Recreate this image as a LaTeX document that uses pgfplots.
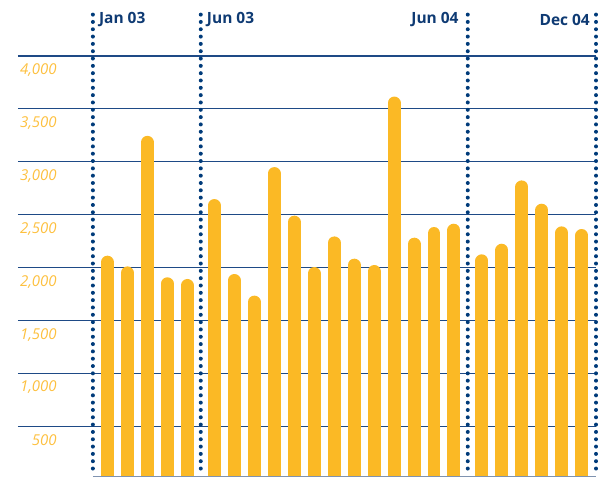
\documentclass[border=0pt]{standalone}
\usepackage{fontspec}
\setmainfont{Open Sans}
\usepackage{pgfplots}
\pgfplotsset{compat=1.18}
\definecolor{barc}{HTML}{FBB925}
\definecolor{labc}{HTML}{FDC03F}
\definecolor{gridc}{HTML}{1E4A86}
\definecolor{dotc}{HTML}{003B7A}
\definecolor{labb}{HTML}{0E3A73}
\definecolor{axisc}{HTML}{7F93B0}
\tikzset{dotl/.style={dotc, line width=4pt, line cap=round, dash pattern=on 0pt off 7.33pt},
 mlab/.style={text=labb, font=\bfseries\fontsize{15.5}{17}\selectfont, inner sep=0pt}}
\begin{document}
\begin{tikzpicture}
\begin{axis}[
 scale only axis, width=578.7pt, height=477pt,
 xmin=-4.475, xmax=24.46, ymin=28, ymax=4528,
 axis x line*=bottom, axis y line*=left,
 x axis line style={draw=none},
 y axis line style={draw=none},
 xtick=\empty, ytick={500,1000,...,4000},
 ytick style={draw=none},
 ymajorgrids, grid style={draw=gridc, line width=1.3pt},
 yticklabel style={anchor=east, xshift=39pt, yshift=-14pt, font=\fontsize{15}{17}\selectfont\itshape, text=labc, inner sep=0pt},
 /pgf/number format/assume math mode=true,
 /pgf/number format/1000 sep={,},
]
\addplot[ycomb, draw=barc, line width=13pt, line cap=round, yshift=-6.5pt, mark=none] coordinates {
 (0,2113) (1,2012) (2,3245) (3,1909) (4,1893)
 (5.35,2648) (6.35,1940) (7.35,1736) (8.35,2950) (9.35,2491) (10.35,2006)
 (11.35,2295) (12.35,2085) (13.35,2025) (14.35,3616) (15.35,2283) (16.35,2384) (17.35,2415)
 (18.75,2126) (19.75,2226) (20.75,2824) (21.75,2604) (22.75,2390) (23.75,2365)
};
\draw[axisc, line width=1pt] (axis cs:-0.725,28) -- (axis cs:24.46,28);
\draw[dotl] (axis cs:-0.725,4390) -- (axis cs:-0.725,50);
\draw[dotl] (axis cs:4.675,4390) -- (axis cs:4.675,50);
\draw[dotl] (axis cs:18.04,4390) -- (axis cs:18.04,50);
\coordinate (dtop) at (axis cs:24.46,4390);
\coordinate (dbot) at (axis cs:24.46,50);
\node[mlab, anchor=west, xshift=6pt] at (axis cs:-0.725,4340) {Jan 03};
\node[mlab, anchor=west, xshift=6pt] at (axis cs:4.675,4340) {Jun 03};
\node[mlab, anchor=east, xshift=-9pt] at (axis cs:18.04,4340) {Jun 04};
\node[mlab, anchor=east, xshift=-6pt] at (axis cs:24.46,4340) {Dec 04};
\end{axis}
\draw[dotl] (dtop) -- (dbot);
\path ([xshift=-18pt]current axis.south west);
\end{tikzpicture}
\end{document}
